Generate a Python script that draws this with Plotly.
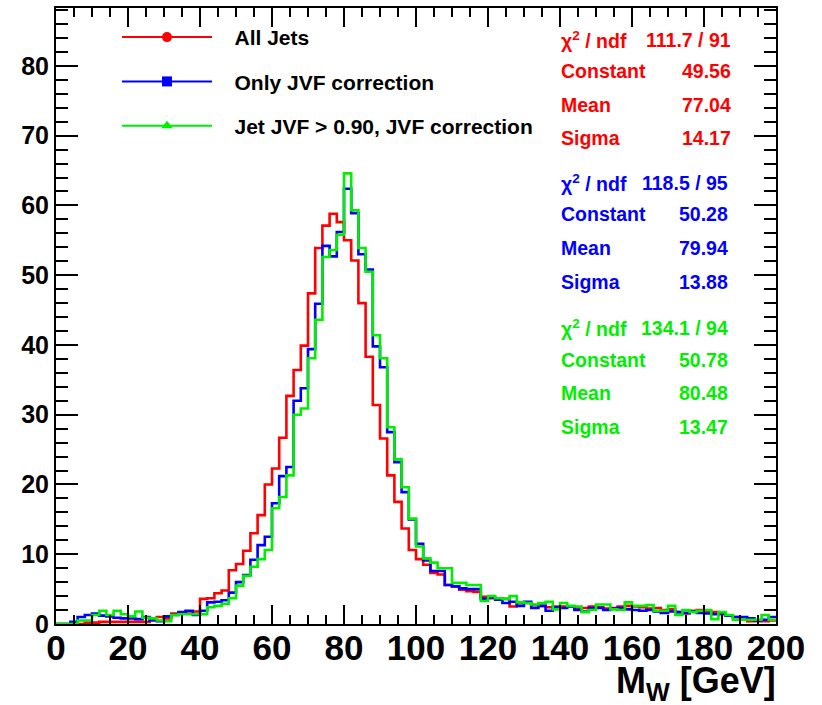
import plotly.graph_objects as go

# ---------------- data (2 GeV bins from 0 to 200) ----------------
bin_edges = [2 * i for i in range(101)]

all_jets = [
    0.0, 0.0, 0.0, 0.0, 0.2, 0.2, 0.3, 0.3, 0.3, 0.3,
    0.3, 0.3, 0.3, 0.6, 1.0, 0.8, 1.5, 1.5, 1.8, 1.8,
    3.6, 3.7, 4.4, 4.8, 7.7, 8.6, 10.5, 13.0, 15.6, 20.0,
    22.3, 26.7, 32.7, 36.4, 39.9, 47.4, 53.9, 57.1, 58.8, 57.6,
    55.0, 52.1, 46.0, 38.3, 31.4, 26.6, 21.3, 17.5, 13.7, 10.6,
    9.3, 8.5, 7.3, 7.1, 5.6, 5.4, 4.9, 4.7, 4.6, 3.9,
    3.7, 3.7, 3.6, 2.5, 3.0, 3.0, 2.7, 2.6, 2.4, 2.5,
    2.5, 2.5, 2.2, 2.3, 2.5, 2.4, 2.2, 2.3, 2.5, 2.6,
    2.5, 2.4, 2.2, 2.3, 2.0, 2.1, 1.7, 1.5, 1.9, 2.0,
    1.8, 1.7, 1.4, 1.2, 1.0, 0.6, 0.4, 0.4, 0.4, 0.5,
]

only_jvf = [
    0.0, 0.0, 0.3, 1.0, 1.3, 1.5, 1.2, 1.1, 0.9, 0.8,
    0.8, 0.7, 1.0, 0.5, 0.4, 1.1, 1.3, 1.7, 1.9, 1.3,
    1.9, 3.1, 3.2, 3.4, 4.5, 6.0, 7.0, 9.2, 11.3, 12.5,
    17.3, 21.2, 22.5, 32.0, 33.8, 39.4, 45.9, 54.2, 52.7, 56.2,
    62.4, 58.9, 53.0, 50.8, 39.8, 36.8, 27.5, 23.2, 18.9, 15.0,
    11.5, 9.1, 7.6, 7.6, 5.6, 5.4, 5.1, 5.0, 5.0, 3.6,
    3.8, 3.5, 3.0, 3.2, 2.6, 3.2, 2.3, 2.6, 1.9, 2.4,
    2.3, 2.5, 2.0, 1.8, 2.3, 2.3, 2.0, 2.2, 2.3, 2.1,
    2.0, 1.9, 2.0, 1.8, 1.6, 1.8, 1.7, 1.6, 1.8, 1.6,
    1.5, 1.4, 1.5, 1.2, 1.0, 1.0, 0.8, 0.5, 0.6, 1.0,
]

jvf_cut = [
    0.0, 0.0, 0.0, 0.5, 0.5, 1.3, 1.9, 1.3, 1.9, 1.4,
    1.1, 1.8, 0.9, 0.8, 0.5, 0.4, 1.3, 1.4, 1.4, 1.4,
    1.4, 2.4, 2.6, 2.9, 3.7, 5.5, 6.9, 8.2, 9.3, 10.6,
    16.6, 18.2, 21.3, 30.0, 30.9, 38.1, 43.6, 52.6, 53.6, 55.8,
    64.6, 59.3, 53.9, 50.5, 41.4, 38.1, 28.2, 23.6, 19.6, 15.1,
    11.1, 9.4, 8.8, 8.0, 8.0, 5.9, 5.9, 5.6, 5.6, 3.3,
    4.0, 3.7, 3.6, 4.0, 3.1, 3.0, 2.8, 3.0, 3.2, 2.1,
    3.0, 2.6, 2.5, 1.7, 2.0, 2.8, 2.8, 2.1, 2.0, 3.1,
    2.6, 2.6, 2.7, 1.9, 1.9, 2.6, 1.3, 2.0, 1.7, 1.9,
    2.0, 0.7, 1.7, 1.3, 0.6, 0.6, 0.6, 0.6, 1.3, 0.6,
]

series_names = ["All Jets", "Only JVF correction", "Jet JVF > 0.90, JVF correction"]
series_colors = ["#ff0000", "#0000ff", "#00ee00"]
series_symbols = ["circle", "square", "triangle-up"]
series_values = [all_jets, only_jvf, jvf_cut]

fit_labels = ["\u03c7<sup>2</sup> / ndf", "Constant", "Mean", "Sigma"]
fit_values = [
    ["111.7 / 91", "49.56", "77.04", "14.17"],
    ["118.5 / 95", "50.28", "79.94", "13.88"],
    ["134.1 / 94", "50.78", "80.48", "13.47"],
]

FONT = "Liberation Sans, Arial, sans-serif"

# ---------------- figure ----------------
fig = go.Figure()

for name, col, vals in zip(series_names, series_colors, series_values):
    fig.add_trace(go.Scatter(
        x=bin_edges, y=vals + [vals[-1]],
        mode="lines", line=dict(color=col, width=2.6, shape="hv"),
        showlegend=False, hoverinfo="skip",
    ))

# legend entries (line + marker, as in the original)
gap = "\u00a0\u00a0\u00a0"
for k, (name, col, sym) in enumerate(zip(series_names, series_colors, series_symbols)):
    fig.add_trace(go.Scatter(
        x=[None], y=[None], mode="lines+markers", name=gap + "<b>" + name + "</b>",
        line=dict(color=col, width=2), marker=dict(color=col, size=10, symbol=sym),
        legendgroup="g%d" % k,
    ))

# plot-area geometry in pixels (for placing text boxes)
W, H = 822, 705
L, R, T, B = 56, 46, 6, 81
pw, ph = W - L - R, H - T - B


def px_to_paper(xp, yp):
    return (xp - L) / pw, (H - B - yp) / ph


row_y = [[38, 69, 103, 136], [182, 213, 247, 281], [327, 359, 392, 426]]
right_x = [733, 730, 730]
annotations = []
for s in range(3):
    for r in range(4):
        xl, yl = px_to_paper(559, row_y[s][r])
        xr, _ = px_to_paper(right_x[s], row_y[s][r])
        annotations.append(dict(
            x=xl, y=yl, xref="paper", yref="paper", xanchor="left", yanchor="middle",
            text="<b>" + fit_labels[r] + "</b>", showarrow=False,
            font=dict(family=FONT, size=19.5, color=series_colors[s]),
        ))
        annotations.append(dict(
            x=xr, y=yl, xref="paper", yref="paper", xanchor="right", yanchor="middle",
            text="<b>" + fit_values[s][r] + "</b>", showarrow=False,
            font=dict(family=FONT, size=19.5, color=series_colors[s]),
        ))

xt, yt = px_to_paper(778, 708)
annotations.append(dict(
    x=xt, y=yt, xref="paper", yref="paper", xanchor="right", yanchor="bottom",
    text="<b>M<sub>W</sub> [GeV]</b>", showarrow=False,
    font=dict(family=FONT, size=36, color="black"),
))

lx, ly = px_to_paper(117, 15)
fig.update_layout(
    width=W, height=H,
    margin=dict(l=L, r=R, t=T, b=B, pad=0),
    paper_bgcolor="white", plot_bgcolor="white",
    showlegend=True,
    legend=dict(
        x=lx, y=ly, xanchor="left", yanchor="top",
        bgcolor="rgba(0,0,0,0)", borderwidth=0,
        font=dict(family=FONT, size=21, color="black"),
        itemwidth=90, traceorder="grouped", tracegroupgap=14,
    ),
    annotations=annotations,
    xaxis=dict(
        range=[0, 200], dtick=20, tick0=0,
        ticks="inside", ticklen=19, tickwidth=1.5, tickcolor="black",
        minor=dict(dtick=5, ticklen=9, ticks="inside", tickwidth=1.5, tickcolor="black"),
        showline=True, linewidth=2, linecolor="black", mirror="allticks",
        showgrid=False, zeroline=False, ticklabelstandoff=-8,
        tickfont=dict(family=FONT, size=35, color="black", weight="bold"),
    ),
    yaxis=dict(
        range=[0, 88.3], dtick=10, tick0=0,
        ticks="inside", ticklen=22, tickwidth=1.5, tickcolor="black",
        minor=dict(dtick=2, ticklen=12, ticks="inside", tickwidth=1.5, tickcolor="black"),
        showline=True, linewidth=2, linecolor="black", mirror="allticks",
        showgrid=False, zeroline=False,
        tickfont=dict(family=FONT, size=25, color="black", weight="bold"),
    ),
)

fig.write_html("out.html")
